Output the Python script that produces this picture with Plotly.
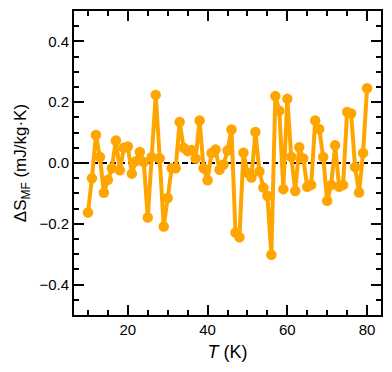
import plotly.graph_objects as go

T = list(range(10, 81))
dS = [
    -0.163, -0.050, 0.092, 0.020, -0.098, -0.055, -0.017, 0.074, -0.024, 0.050,
    0.054, -0.035, 0.006, 0.036, 0.003, -0.179, 0.020, 0.224, 0.015, -0.209,
    -0.115, -0.017, -0.017, 0.135, 0.050, 0.039, 0.043, 0.015, 0.140, -0.017,
    -0.057, 0.033, 0.044, -0.022, -0.005, 0.041, 0.110, -0.229, -0.244, 0.034,
    -0.032, -0.048, 0.102, -0.028, -0.081, -0.108, -0.302, 0.220, 0.172, -0.086,
    0.211, 0.020, -0.092, 0.052, 0.015, -0.078, -0.072, 0.140, 0.112, 0.020,
    -0.124, -0.072, 0.058, -0.078, -0.072, 0.168, 0.163, -0.013, -0.097, 0.033,
    0.246,
]
x_range = [6.5, 83.5]
y_range = [-0.5, 0.5]
y_ticks = [-0.4, -0.2, 0.0, 0.2, 0.4]
y_ticklabels = ["\u22120.4", "\u22120.2", "0.0", "0.2", "0.4"]
x_ticks = [20, 40, 60, 80]

FONT = "Liberation Sans, Arial, sans-serif"

fig = go.Figure()
fig.add_trace(go.Scatter(
    x=x_range, y=[0, 0], mode="lines",
    line=dict(color="black", width=2, dash="6px,3px"),
    hoverinfo="skip", showlegend=False,
))
fig.add_trace(go.Scatter(
    x=T, y=dS, mode="lines+markers",
    line=dict(color="#FFA500", width=4),
    marker=dict(color="#FFA500", size=10.5),
    showlegend=False,
))

axis_common = dict(
    showline=True, linecolor="black", linewidth=2, mirror="allticks",
    ticks="inside", tickcolor="black", tickwidth=1.5, ticklen=10,
    showgrid=False, zeroline=False,
    tickfont=dict(family=FONT, size=15, color="black"),
)

fig.update_xaxes(
    range=x_range, tickvals=x_ticks,
    minor=dict(dtick=5, tick0=0, ticks="inside", ticklen=5, tickwidth=1.5, tickcolor="black"),
    title=dict(text="<i>T</i> (K)", font=dict(family=FONT, size=18, color="black"), standoff=8),
    **axis_common,
)
fig.update_yaxes(
    range=y_range, tickvals=y_ticks, ticktext=y_ticklabels,
    minor=dict(dtick=0.05, tick0=0, ticks="inside", ticklen=5, tickwidth=1.5, tickcolor="black"),
    title=dict(text="\u0394S<sub>MF</sub> (mJ/kg\u00b7K)", font=dict(family=FONT, size=17, color="black"), standoff=8),
    **axis_common,
)

fig.update_layout(
    width=392, height=372,
    margin=dict(l=74, r=9, t=9, b=57),
    paper_bgcolor="white", plot_bgcolor="white",
)

fig.write_html(
    "out.html",
    config={"displayModeBar": False},
    post_script="document.body.style.margin='0';document.body.style.padding='0';document.body.style.overflow='hidden';",
)
